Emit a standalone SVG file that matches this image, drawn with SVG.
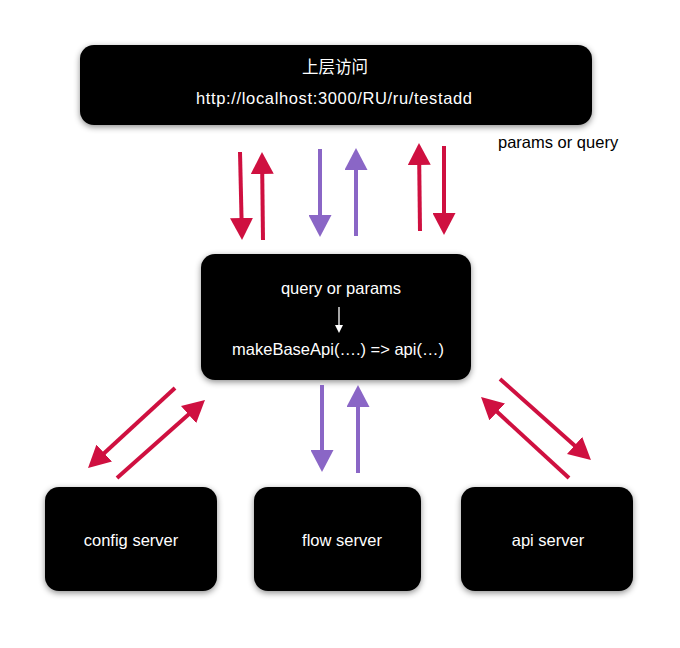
<svg xmlns="http://www.w3.org/2000/svg" width="680" height="648" viewBox="0 0 680 648">
<style>
.box{fill:#000;filter:url(#sh)}
.t{font-family:"Liberation Sans","Noto Sans CJK SC",sans-serif;font-size:16.5px;fill:#fff;text-anchor:middle}
.lbl{font-family:"Liberation Sans",sans-serif;font-size:16.5px;fill:#000}
.red{stroke:#CF1040;stroke-width:4;fill:none;marker-end:url(#hr)}
.pur{stroke:#8A66C6;stroke-width:4;fill:none;marker-end:url(#hp)}
</style>
<defs>
<filter id="sh" x="-20%" y="-30%" width="140%" height="160%">
<feDropShadow dx="0" dy="2" stdDeviation="3" flood-color="#000" flood-opacity="0.45"/>
</filter>
<marker id="hr" viewBox="0 0 22 23" refX="12" refY="11.5" markerWidth="22" markerHeight="23" markerUnits="userSpaceOnUse" orient="auto">
<path d="M0,0 L22,11.5 L0,23 z" fill="#CF1040"/>
</marker>
<marker id="hp" viewBox="0 0 22 23" refX="12" refY="11.5" markerWidth="22" markerHeight="23" markerUnits="userSpaceOnUse" orient="auto">
<path d="M0,0 L22,11.5 L0,23 z" fill="#8A66C6"/>
</marker>
<marker id="hw" viewBox="0 0 8 8" refX="4" refY="4" markerWidth="8" markerHeight="8" markerUnits="userSpaceOnUse" orient="auto">
<path d="M0,0 L8,4 L0,8 z" fill="#fff"/>
</marker>
</defs>
<rect width="680" height="648" fill="#fff"/>
<g id="top">
<rect class="box" x="80" y="45" width="512" height="80" rx="14"/>
<text class="t" x="335" y="73" font-size="16">上层访问</text>
<text class="t" x="334" y="104" textLength="276" lengthAdjust="spacing">http://localhost:3000/RU/ru/testadd</text>
</g>
<text class="lbl" x="498" y="148">params or query</text>
<g id="middle">
<rect class="box" x="201" y="254" width="270" height="126" rx="14"/>
<text class="t" x="341" y="294">query or params</text>
<line x1="339" y1="307" x2="339" y2="329" stroke="#fff" stroke-width="1.3" marker-end="url(#hw)"/>
<text class="t" x="338" y="355">makeBaseApi(….) =&gt; api(…)</text>
</g>
<g id="config">
<rect class="box" x="45" y="487" width="172" height="104" rx="14"/>
<text class="t" x="131" y="546">config server</text>
</g>
<g id="flow">
<rect class="box" x="254" y="487" width="167" height="104" rx="14"/>
<text class="t" x="342" y="546">flow server</text>
</g>
<g id="api">
<rect class="box" x="461" y="487" width="172" height="104" rx="14"/>
<text class="t" x="548" y="546">api server</text>
</g>
<g id="connectors">
<line class="red" x1="240" y1="152" x2="241.8" y2="230"/>
<line class="red" x1="263" y1="240" x2="262.1" y2="162"/>
<line class="pur" x1="320" y1="149" x2="320" y2="227"/>
<line class="pur" x1="356" y1="236" x2="356" y2="158"/>
<line class="red" x1="420" y1="231" x2="419.1" y2="153"/>
<line class="red" x1="444" y1="146" x2="444" y2="225"/>
<line class="pur" x1="322" y1="385" x2="322" y2="462"/>
<line class="pur" x1="358" y1="473" x2="358" y2="395"/>
<line class="red" x1="175" y1="388" x2="95.4" y2="461.2"/>
<line class="red" x1="117" y1="478" x2="197.5" y2="406.6"/>
<line class="red" x1="500" y1="379" x2="583.5" y2="453.4"/>
<line class="red" x1="569" y1="478" x2="488.4" y2="403.8"/>
</g>
</svg>
